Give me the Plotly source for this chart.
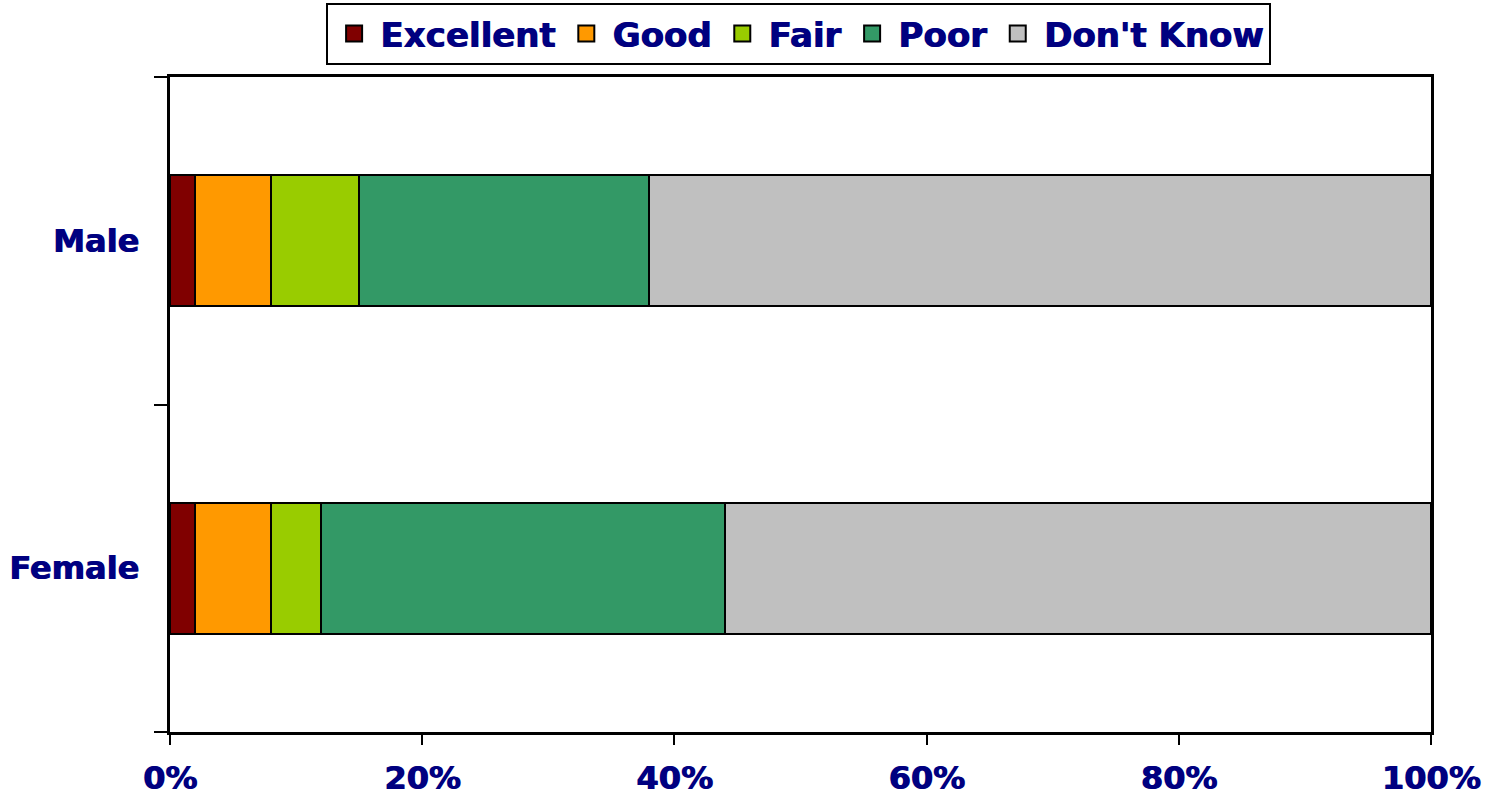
import plotly.graph_objects as go

# Survey rating shares (percent) by gender
groups = ["Female", "Male"]
ratings = ["Excellent", "Good", "Fair", "Poor", "Don't Know"]
excellent = [2, 2]
good = [6, 6]
fair = [4, 7]
poor = [32, 23]
dont_know = [56, 62]

series = [excellent, good, fair, poor, dont_know]
colors = ["#800000", "#FF9900", "#99CC00", "#339966", "#C0C0C0"]

FONT = "DejaVu Sans"
NAVY = "#000080"
SIZE = 32
HEAVY = "1px 0px 0px #000080"


def label_font(size=SIZE):
    return dict(family=FONT, size=size, color=NAVY, weight="bold", shadow=HEAVY)


fig = go.Figure()
for name, vals, col in zip(ratings, series, colors):
    fig.add_trace(go.Bar(
        y=groups, x=vals, name=name, orientation="h",
        legendgroup=name, showlegend=False,
        marker=dict(color=col, line=dict(color="#000000", width=2)),
    ))
    # legend key: a larger square swatch tied to the bar series
    fig.add_trace(go.Scatter(
        x=[None], y=[None], mode="markers", name=name, legendgroup=name,
        marker=dict(symbol="square", size=20, color=col,
                    line=dict(color="#000000", width=2)),
    ))

fig.update_layout(
    width=1486, height=799,
    barmode="stack", bargap=0.6,
    plot_bgcolor="white", paper_bgcolor="white",
    margin=dict(l=170, r=55, t=77, b=67, autoexpand=False),
    font=dict(family=FONT, color=NAVY, size=SIZE),
    legend=dict(
        orientation="h", x=0.4985, xanchor="center", y=1.113, yanchor="top",
        bordercolor="#000000", borderwidth=2, bgcolor="white",
        font=label_font(34), itemsizing="trace",
        traceorder="normal", itemwidth=42, tracegroupgap=0,
    ),
    showlegend=True,
)

fig.update_xaxes(
    range=[0, 100], dtick=20, ticksuffix="%",
    showgrid=False, zeroline=False, automargin=False,
    showline=True, linecolor="#000000", linewidth=2.5, mirror=True,
    ticks="outside", ticklen=10, tickwidth=2, tickcolor="#000000",
    ticklabelstandoff=6,
    tickfont=label_font(),
)
fig.update_yaxes(
    type="category", categoryorder="array", categoryarray=groups,
    range=[-0.5, 1.5], tickson="boundaries",
    showgrid=False, zeroline=False, automargin=False,
    showline=True, linecolor="#000000", linewidth=2.5, mirror=True,
    ticks="outside", ticklen=13, tickwidth=2, tickcolor="#000000",
    ticklabelstandoff=22,
    tickfont=label_font(),
)

fig.write_html("out.html")
